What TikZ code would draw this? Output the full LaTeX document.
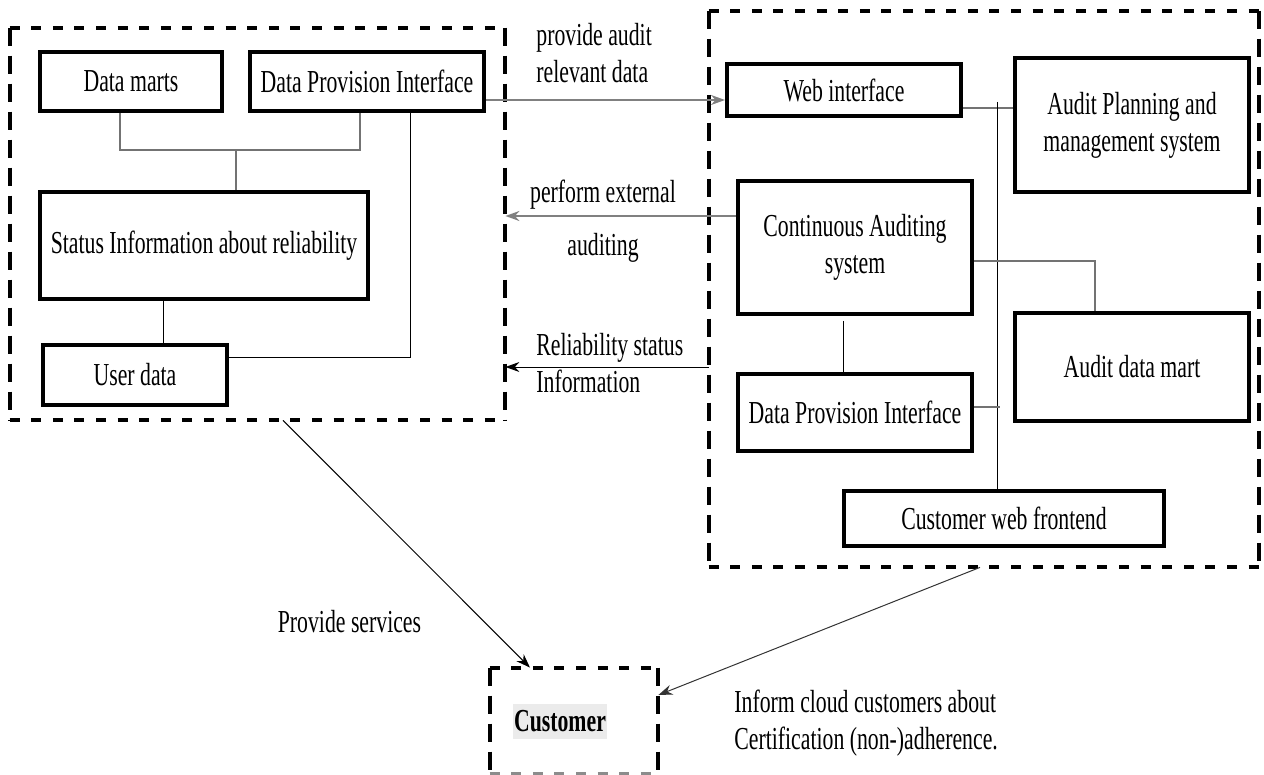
\documentclass[tikz,border=0pt]{standalone}
\usepackage{fontspec}
\setmainfont{Liberation Serif}[FakeStretch=0.68]
\usetikzlibrary{arrows.meta}
\begin{document}
\begin{tikzpicture}[x=0.5pt,y=-0.5pt,
  font=\fontsize{16pt}{18.5pt}\selectfont,
  box/.style={draw, line width=2pt, inner sep=0pt, align=center},
  grp/.style={draw=none, inner sep=0pt},
  hd/.style={line width=2pt, dash pattern=on 5pt off 5.8pt},
  vd/.style={line width=2pt, dash pattern=on 9pt off 5pt},
  bline/.style={line width=0.5pt},
  gline/.style={line width=0.6pt, draw=black!55},
  garrow/.style={line width=1pt, draw=black!50, -{Stealth[length=7pt,width=5pt,fill=black]}},
  barrow/.style={line width=0.5pt, -{Stealth[length=7pt,width=5pt]}},
  lbl/.style={inner sep=0pt, align=left}
]
\useasboundingbox (0,0) rectangle (1264,775);

% boxes
\node[box, minimum width=91pt, minimum height=29.5pt] (dm) at (131,81.5) {Data marts};
\node[box, minimum width=117pt, minimum height=29.5pt] (dpiL) at (367,81.5) {Data Provision Interface};
\node[box, minimum width=164pt, minimum height=53.5pt] (status) at (204,245.5) {Status Information about reliability};
\node[box, minimum width=92pt, minimum height=30pt] (user) at (135,375) {User data};
\node[box, minimum width=117pt, minimum height=26pt] (web) at (844,90) {Web interface};
\node[box, minimum width=117pt, minimum height=67pt] (apm) at (1132,125) {Audit Planning and\\management system};
\node[box, minimum width=117pt, minimum height=66.5pt] (cas) at (855,247.5) {Continuous Auditing\\system};
\node[box, minimum width=117pt, minimum height=54pt] (adm) at (1132,367) {Audit data mart};
\node[box, minimum width=117pt, minimum height=38.5pt] (dpiR) at (855,412.5) {Data Provision Interface};
\node[box, minimum width=160pt, minimum height=27.5pt] (cwf) at (1004,518.5) {Customer web frontend};

% groups
\node[grp, minimum width=247.5pt, minimum height=196pt] (left) at (257.5,224) {};
\node[grp, minimum width=275pt, minimum height=278pt] (right) at (984,289) {};
\node[grp, minimum width=84pt, minimum height=52.5pt] (cust) at (574,720.5) {};
\foreach \g in {left,right,cust}{
  \draw[hd] (\g.north west) -- (\g.north east);
  \draw[vd] (\g.north west) -- (\g.south west);
  \draw[vd] (\g.north east) -- (\g.south east);
}
\draw[hd] (left.south west) -- (left.south east);
\draw[hd] (right.south west) -- (right.south east);
\draw[hd, draw=black!45, line width=1.2pt] (cust.south west) -- (cust.south east);

\node[fill=black!8, inner xsep=0.5pt, inner ysep=0pt, minimum height=17.5pt, font=\fontsize{16pt}{18.5pt}\selectfont\bfseries] (custlbl) at (560,721) {Customer};

% labels
\node[lbl, anchor=west] (l1) at (536,53.5) {provide audit\\relevant data};
\node[inner sep=0pt, align=center] (l2) at (603,221.5) {perform external\\[8pt]auditing};
\node[lbl, anchor=west] (l3) at (536,363.5) {Reliability status\\Information};
\node[inner sep=0pt] (l4) at (349.5,622) {Provide services};
\node[lbl, anchor=west] (l5) at (734,723.5) {Inform cloud customers about\\Certification (non-)adherence.};

% junction coordinates
\coordinate (j1) at (120,150);
\coordinate (j2) at (360,150);
\coordinate (j3) at (236,150);
\coordinate (j4) at (163,320);
\coordinate (j5) at (410,358);
\coordinate (j6) at (0,100);
\coordinate (j7) at (0,108);
\coordinate (j8) at (997,102);
\coordinate (j9) at (1095,261);
\coordinate (j10) at (843,321);
\coordinate (j11) at (1000,407);
\coordinate (j12) at (0,216);
\coordinate (j13) at (0,367);
\coordinate (j14) at (283,0);
\coordinate (j15) at (530,0);
\coordinate (j16) at (980,0);
\coordinate (j17) at (0,695);

% left connectors
\draw[gline] (dm.south -| j1) |- (j2) -- (dpiL.south -| j2);
\draw[gline] (j3) -- (status.north -| j3);
\draw[bline] (status.south -| j4) -- (user.north -| j4);
\draw[bline] (user.east |- j5) -- (j5) -- (dpiL.south -| j5);

% right connectors
\draw[gline] (web.east |- j7) -- (apm.west |- j7);
\draw[bline] (j8) -- (cwf.north -| j8);
\draw[gline] (cas.east |- j9) -| (adm.north -| j9);
\draw[bline] (j10) -- (dpiR.north -| j10);
\draw[gline, line width=1pt] (dpiR.east |- j11) -- (j11);

% arrows between groups
\draw[garrow] (dpiL.east |- j6) -- (web.west |- j6);
\draw[garrow] (cas.west |- j12) -- (left.east |- j12);
\draw[barrow] (right.west |- j13) -- (left.east |- j13);
\draw[barrow] (left.south -| j14) -- (cust.north -| j15);
\draw[barrow, draw=black!80] (right.south -| j16) -- (cust.east |- j17);
\end{tikzpicture}
\end{document}
